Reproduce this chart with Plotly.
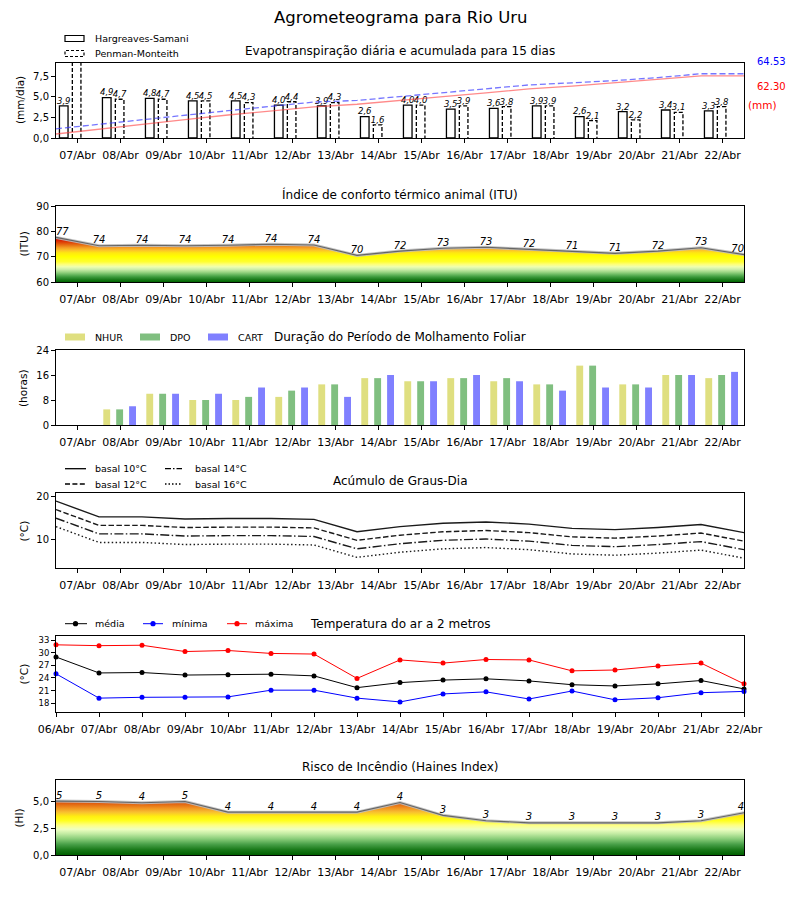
import plotly.graph_objects as go

FONT = "DejaVu Sans"
OFF = 8                 # page body margin
W, H = 800 - 2 * OFF, 900 - 2 * OFF

# ---------------- data ----------------
dates16 = ["07/Abr", "08/Abr", "09/Abr", "10/Abr", "11/Abr", "12/Abr", "13/Abr", "14/Abr",
           "15/Abr", "16/Abr", "17/Abr", "18/Abr", "19/Abr", "20/Abr", "21/Abr", "22/Abr"]
dates17 = ["06/Abr"] + dates16

et_hs = [3.9, 4.9, 4.8, 4.5, 4.5, 4.0, 3.9, 2.6, 4.0, 3.5, 3.6, 3.9, 2.6, 3.2, 3.4, 3.3]
et_pm = [9.2, 4.7, 4.7, 4.5, 4.3, 4.4, 4.3, 1.6, 4.0, 3.9, 3.8, 3.9, 2.1, 2.2, 3.1, 3.8]
et_hs_cum = [4.0, 9.0, 13.9, 18.5, 23.1, 27.2, 31.2, 33.9, 38.0, 41.6, 45.3, 49.3, 52.0, 55.3, 58.8, 62.30]
et_pm_cum = [9.2, 13.9, 18.6, 23.1, 27.4, 31.8, 36.1, 37.7, 41.7, 45.6, 49.4, 53.3, 55.4, 57.6, 60.7, 64.53]

itu_line = [77.6, 74.3, 74.5, 74.3, 74.5, 74.9, 74.6, 70.5, 72.2, 73.3, 73.7, 72.9, 71.9, 71.3, 72.2, 73.5, 70.8]
itu_labels = [77, 74, 74, 74, 74, 74, 74, 70, 72, 73, 73, 72, 71, 71, 72, 73, 70]

nhur = [0, 5, 10, 8, 8, 9, 13, 15, 14, 15, 14, 13, 19, 13, 16, 15]
dpo = [0, 5, 10, 8, 9, 11, 13, 15, 14, 15, 15, 13, 19, 13, 16, 16]
cart = [0, 6, 10, 10, 12, 12, 9, 16, 14, 16, 14, 11, 12, 12, 16, 17]

gd10 = [19.0, 15.3, 15.3, 14.8, 14.9, 14.9, 14.7, 11.8, 13.0, 13.8, 14.1, 13.6, 12.6, 12.3, 12.8, 13.5, 11.6]
gd12 = [17.0, 13.3, 13.3, 12.8, 12.9, 12.9, 12.7, 9.8, 11.0, 11.8, 12.1, 11.6, 10.6, 10.3, 10.8, 11.5, 9.6]
gd14 = [15.0, 11.3, 11.3, 10.8, 10.9, 10.9, 10.7, 7.8, 9.0, 9.8, 10.1, 9.6, 8.6, 8.3, 8.8, 9.5, 7.6]
gd16 = [13.0, 9.3, 9.3, 8.8, 8.9, 8.9, 8.7, 5.8, 7.0, 7.8, 8.1, 7.6, 6.6, 6.3, 6.8, 7.5, 5.6]

t_media = [29.0, 25.2, 25.3, 24.7, 24.8, 24.9, 24.5, 21.7, 22.9, 23.5, 23.8, 23.3, 22.4, 22.1, 22.6, 23.4, 21.4]
t_min = [25.0, 19.2, 19.4, 19.4, 19.5, 21.1, 21.1, 19.2, 18.3, 20.2, 20.7, 19.0, 20.9, 18.8, 19.3, 20.5, 20.8]
t_max = [31.9, 31.7, 31.8, 30.3, 30.55, 29.85, 29.7, 23.9, 28.3, 27.55, 28.4, 28.3, 25.7, 25.9, 26.85, 27.55, 22.6]

hi_line = [5.03, 5.0, 4.88, 5.0, 4.0, 4.0, 4.0, 4.0, 4.9, 3.7, 3.2, 3.0, 3.0, 3.0, 3.0, 3.2, 3.95]
hi_labels = [5, 5, 4, 5, 4, 4, 4, 4, 4, 3, 3, 3, 3, 3, 3, 3, 4]

# ---------------- helpers (page pixel -> paper) ----------------
def px(x):
    return (x - OFF) / W

def py(y):
    return 1 - (y - OFF) / H

def fmt(v):
    return f"{v:.1f}".replace(".", ",")

X0, X1 = 56, 744
panels = {1: (63, 138), 2: (206, 282), 3: (350, 425), 4: (493, 568), 5: (636, 712), 6: (780, 855)}

idx16 = list(range(16))
idx17 = list(range(17))
xhalf = [i - 0.5 for i in idx17]

fig = go.Figure()

# ---------------- panel 1: ET ----------------
hs_x = [i - 0.32 for i in idx16]
pm_x = [i - 0.02 for i in idx16]
bw = 0.2
fig.add_trace(go.Bar(x=hs_x, y=et_hs, width=bw, xaxis="x", yaxis="y",
                     marker=dict(color="white", line=dict(color="black", width=1.3)), showlegend=False))
fig.add_trace(go.Bar(x=pm_x, y=et_pm, width=bw, xaxis="x", yaxis="y",
                     marker=dict(color="white", line=dict(width=0)), showlegend=False))
ox, oy = [], []
for xc, v in zip(pm_x, et_pm):
    ox += [xc - bw / 2, xc - bw / 2, xc + bw / 2, xc + bw / 2, None]
    oy += [0, v, v, 0, None]
fig.add_trace(go.Scatter(x=ox, y=oy, mode="lines", xaxis="x", yaxis="y",
                         line=dict(color="black", width=1.3, dash="4px,2px"), showlegend=False))
fig.add_trace(go.Scatter(x=hs_x, y=et_hs, mode="text", text=[fmt(v) for v in et_hs], xaxis="x", yaxis="y",
                         textposition="top center", cliponaxis=True, showlegend=False,
                         textfont=dict(size=8.5, family=FONT, style="italic", color="black")))
fig.add_trace(go.Scatter(x=pm_x, y=et_pm, mode="text", text=[fmt(v) for v in et_pm], xaxis="x", yaxis="y",
                         textposition="top center", cliponaxis=True, showlegend=False,
                         textfont=dict(size=8.5, family=FONT, style="italic", color="black")))
fig.add_trace(go.Scatter(x=xhalf, y=et_pm_cum + [et_pm_cum[-1]], mode="lines", xaxis="x", yaxis="y7",
                         line=dict(color="rgba(60,60,255,0.7)", width=1.3, dash="6px,3px"), showlegend=False))
fig.add_trace(go.Scatter(x=xhalf, y=et_hs_cum + [et_hs_cum[-1]], mode="lines", xaxis="x", yaxis="y7",
                         line=dict(color="rgba(255,60,60,0.6)", width=1.3), showlegend=False))

# ---------------- panel 2: ITU ----------------
itu_cs = [[0.0, "#006400"], [0.0556, "#1c7c1c"], [0.111, "#3c9a3c"], [0.1667, "#6cba62"],
          [0.222, "#a0d888"], [0.2778, "#cdeeaa"], [0.333, "#eeffb0"], [0.389, "#ffff78"],
          [0.444, "#ffff30"], [0.556, "#ffff00"], [0.639, "#ffe810"], [0.694, "#fcc428"],
          [0.75, "#f4a024"], [0.806, "#e87414"], [0.861, "#e04808"], [0.917, "#d82000"], [1.0, "#c80000"]]
fig.add_trace(go.Scatter(x=xhalf, y=itu_line, mode="lines", xaxis="x2", yaxis="y2", line=dict(width=0),
                         fill="tozeroy", fillgradient=dict(type="vertical", colorscale=itu_cs, start=60, stop=78),
                         showlegend=False))
fig.add_trace(go.Scatter(x=xhalf, y=itu_line, mode="lines", xaxis="x2", yaxis="y2",
                         line=dict(color="rgba(190,190,190,0.9)", width=3), showlegend=False))
fig.add_trace(go.Scatter(x=xhalf, y=itu_line, mode="lines", xaxis="x2", yaxis="y2",
                         line=dict(color="#666666", width=1.1), showlegend=False))
tpos = ["top right"] + ["top center"] * 15 + ["top left"]
fig.add_trace(go.Scatter(x=xhalf, y=itu_line, mode="text", text=[str(v) for v in itu_labels],
                         textposition=tpos, xaxis="x2", yaxis="y2", cliponaxis=False, showlegend=False,
                         textfont=dict(size=10, family=FONT, style="italic", color="black")))

# ---------------- panel 3: molhamento ----------------
mw = 0.16
for vals, off, col in [(nhur, -0.32, "#dfdf80"), (dpo, -0.02, "#80bf80"), (cart, 0.28, "#8080ff")]:
    fig.add_trace(go.Bar(x=[i + off for i in idx16], y=vals, width=mw, xaxis="x3", yaxis="y3",
                         marker=dict(color=col, line=dict(width=0)), showlegend=False))

# ---------------- panel 4: graus-dia ----------------
for vals, dash in [(gd10, "solid"), (gd12, "5.5px,2.4px"), (gd14, "9px,2.4px,1.5px,2.4px"), (gd16, "1.5px,2.4px")]:
    fig.add_trace(go.Scatter(x=xhalf, y=vals, mode="lines", xaxis="x4", yaxis="y4",
                             line=dict(color="#1a1a1a", width=1.4, dash=dash), showlegend=False))

# ---------------- panel 5: temperatura ----------------
for vals, col in [(t_media, "black"), (t_min, "blue"), (t_max, "red")]:
    fig.add_trace(go.Scatter(x=idx17, y=vals, mode="lines+markers", xaxis="x5", yaxis="y5", cliponaxis=False,
                             line=dict(color=col, width=1), marker=dict(color=col, size=5), showlegend=False))

# ---------------- panel 6: Haines ----------------
hi_cs = [[0.0, "#006000"], [0.091, "#1a7a1a"], [0.182, "#48a048"], [0.273, "#88cc78"], [0.364, "#c4eca4"],
         [0.436, "#eeffc0"], [0.509, "#ffff80"], [0.582, "#ffff20"], [0.655, "#ffee10"], [0.727, "#f8c030"],
         [0.8, "#f09020"], [0.873, "#e06010"], [0.945, "#d03800"], [1.0, "#c82000"]]
fig.add_trace(go.Scatter(x=xhalf, y=hi_line, mode="lines", xaxis="x6", yaxis="y6", line=dict(width=0),
                         fill="tozeroy", fillgradient=dict(type="vertical", colorscale=hi_cs, start=0, stop=5.5),
                         showlegend=False))
fig.add_trace(go.Scatter(x=xhalf, y=hi_line, mode="lines", xaxis="x6", yaxis="y6",
                         line=dict(color="rgba(190,190,190,0.9)", width=3), showlegend=False))
fig.add_trace(go.Scatter(x=xhalf, y=hi_line, mode="lines", xaxis="x6", yaxis="y6",
                         line=dict(color="#666666", width=1.1), showlegend=False))
fig.add_trace(go.Scatter(x=xhalf, y=hi_line, mode="text", text=[str(v) for v in hi_labels],
                         textposition=tpos, xaxis="x6", yaxis="y6", cliponaxis=False, showlegend=False,
                         textfont=dict(size=10, family=FONT, style="italic", color="black")))

# ---------------- axes ----------------
common = dict(showline=True, linecolor="black", linewidth=1, mirror=True, ticks="outside", ticklen=4,
              tickwidth=1, tickcolor="black", showgrid=False, zeroline=False, automargin=False)
yspec = {
    1: dict(range=[0, 9.1], tickvals=[0, 2.5, 5, 7.5], tickformat=".1f"),
    2: dict(range=[60, 90], tickvals=[60, 70, 80, 90]),
    3: dict(range=[0, 24], tickvals=[0, 8, 16, 24]),
    4: dict(range=[3.3, 20.9], tickvals=[10, 20]),
    5: dict(range=[15.9, 34.0], tickvals=[18, 21, 24, 27, 30, 33]),
    6: dict(range=[0, 7], tickvals=[0, 2.5, 5], tickformat=".1f"),
}
layout_axes = {}
for k, (top, bot) in panels.items():
    sfx = "" if k == 1 else str(k)
    if k == 5:
        xs = dict(range=[0, 16], tickvals=idx17, ticktext=dates17)
    else:
        xs = dict(range=[-0.5, 15.5], tickvals=idx16, ticktext=dates16)
    layout_axes["xaxis" + sfx] = dict(common, domain=[px(X0), px(X1)], anchor="y" + sfx, ticklabelstandoff=3,
                                      tickfont=dict(size=11, family=FONT, color="black"), **xs)
    layout_axes["yaxis" + sfx] = dict(common, domain=[py(bot), py(top)], anchor="x" + sfx,
                                      tickfont=dict(size=8.5 if k == 5 else 10, family=FONT, color="black"),
                                      **yspec[k])
layout_axes["yaxis7"] = dict(overlaying="y", side="right", range=[0, 75.3], showticklabels=False,
                             showline=False, ticks="", showgrid=False, zeroline=False, anchor="x",
                             automargin=False)

# ---------------- annotations ----------------
ann = []
def text(x, y, s, size=12, color="black", xanchor="center", angle=0):
    ann.append(dict(x=px(x), y=py(y), xref="paper", yref="paper", text=s, showarrow=False,
                    xanchor=xanchor, yanchor="middle", textangle=angle,
                    font=dict(size=size, family=FONT, color=color)))

text(400, 18, "Agrometeograma para Rio Uru", size=16.5)
text(400, 51, "Evapotranspiração diária e acumulada para 15 dias", size=12)
text(400, 194, "Índice de conforto térmico animal (ITU)", size=12)
text(400, 337, "Duração do Período de Molhamento Foliar", size=12)
text(400, 481, "Acúmulo de Graus-Dia", size=12)
text(400, 624, "Temperatura do ar a 2 metros", size=12)
text(400, 767, "Risco de Incêndio (Haines Index)", size=12)

text(20, 100, "(mm/dia)", size=10.5, angle=-90)
text(23.5, 244, "(ITU)", size=10.5, angle=-90)
text(23, 388, "(horas)", size=10.5, angle=-90)
text(23.5, 531, "(°C)", size=10.5, angle=-90)
text(23.5, 674, "(°C)", size=10.5, angle=-90)
text(18.5, 818, "(HI)", size=10.5, angle=-90)

text(755, 61, f"{et_pm_cum[-1]:.2f}", size=10, color="blue", xanchor="left")
text(755, 86, f"{et_hs_cum[-1]:.2f}", size=10, color="red", xanchor="left")
text(746, 105, "(mm)", size=10.5, color="red", xanchor="left")

# legends
shapes = []
def rect(x0, y0, x1, y1, fill="white", line="black", dash="solid", lw=1.2):
    shapes.append(dict(type="rect", xref="paper", yref="paper", x0=px(x0), x1=px(x1), y0=py(y1), y1=py(y0),
                       fillcolor=fill, line=dict(color=line, width=lw, dash=dash)))

def hline(x0, x1, y, color="black", dash="solid", lw=1.4):
    shapes.append(dict(type="line", xref="paper", yref="paper", x0=px(x0), x1=px(x1), y0=py(y), y1=py(y),
                       line=dict(color=color, width=lw, dash=dash)))

def dot(x, y, color, r=2.6):
    shapes.append(dict(type="circle", xref="paper", yref="paper", x0=px(x - r), x1=px(x + r),
                       y0=py(y + r), y1=py(y - r), fillcolor=color, line=dict(color=color, width=0)))

LF = 9.5
rect(65, 35.5, 84, 41.5)
text(92.7, 38.5, "Hargreaves-Samani", size=LF, xanchor="left")
rect(65, 50.5, 84, 56.5, dash="3px,2px")
text(92.7, 53.5, "Penman-Monteith", size=LF, xanchor="left")

for x0, col, lab, tx in [(65, "#dfdf80", "NHUR", 92.7), (140, "#80bf80", "DPO", 167.7), (208, "#8080ff", "CART", 236)]:
    rect(x0, 333.5, x0 + 20, 340.5, fill=col, line=col, lw=0)
    text(tx, 337, lab, size=LF, xanchor="left")

for x0, x1, y, dash, lab, tx in [(65, 86, 468.7, "solid", "basal 10°C", 92.7),
                                 (65, 86, 484, "5px,2.4px", "basal 12°C", 92.7),
                                 (165, 182, 468.7, "6px,2px,1.5px,2px", "basal 14°C", 192.7),
                                 (165, 182, 484, "1.5px,2px", "basal 16°C", 192.7)]:
    hline(x0, x1, y, color="black", dash=dash, lw=1.3)
    text(tx, y, lab, size=LF, xanchor="left")

for x0, x1, xm, col, lab, tx in [(65, 87, 75.5, "black", "média", 92.7), (143, 163, 153, "blue", "mínima", 170),
                                 (227, 247, 237, "red", "máxima", 253)]:
    hline(x0, x1, 623.7, color=col, lw=1)
    dot(xm, 623.7, col)
    text(tx, 623.7, lab, size=LF, xanchor="left")

fig.update_layout(
    template="none",
    width=W, height=H, autosize=False,
    margin=dict(l=0, r=0, t=0, b=0, pad=0),
    paper_bgcolor="white", plot_bgcolor="white",
    separators=",.",
    barmode="overlay",
    showlegend=False,
    font=dict(family=FONT, color="black"),
    annotations=ann, shapes=shapes,
    **layout_axes,
)

fig.write_html("out.html")
